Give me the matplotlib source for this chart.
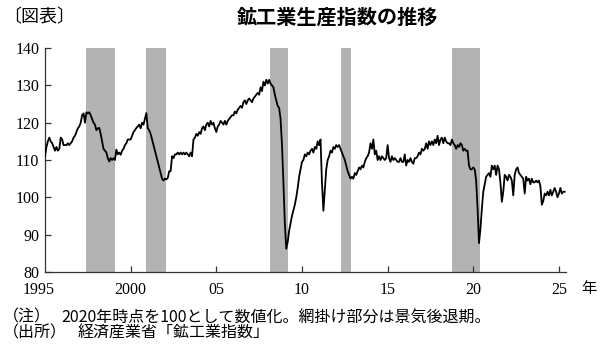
import matplotlib
matplotlib.use("Agg")
import matplotlib.pyplot as plt
import numpy as np

plt.rcParams["font.family"] = ["Liberation Serif", "Noto Sans CJK JP"]

JP = ["Noto Sans CJK JP", "DejaVu Sans"]

# monthly index (2020 = 100), Jan 1995 onwards
iip_1995_1999 = [
    111, 113.5, 115, 116, 115, 114.5, 113.5, 112.5, 113.5, 112.5, 113, 116,
    115.5, 114, 114, 114, 114.5, 114, 114.5, 115, 116, 116.5, 117.5, 118.5,
    119, 120, 122, 122.5, 120, 122.8, 122.5, 122.8, 122, 121, 120, 119.5,
    118, 118.5, 118.6, 117, 115, 113, 112.5, 112, 110.5, 109.6, 110.5, 110,
    110.5, 110, 112.8, 111.5, 112, 111.4, 112.5, 113, 114, 114.5, 115.5, 115.5,
]
iip_2000_2004 = [
    115.5, 116.5, 117.5, 118, 118.6, 119, 119.5, 118.5, 120, 119.5, 121, 122.6,
    118.5, 118, 117, 115.5, 114, 112.5, 111, 109.5, 108, 106.5, 105, 104.5,
    105, 104.8, 105.2, 107, 107, 111, 110.5, 111.5, 111.5, 112, 111.5, 112,
    111.5, 112, 111.5, 112, 111.5, 111, 112, 111, 115.5, 116, 117, 116.5,
    117.5, 117, 118.5, 119, 118, 119.5, 120, 119, 120.5, 119.5, 120, 118.5,
]
iip_2005_2009 = [
    117.5, 119, 119.5, 120.5, 120, 119.5, 120.5, 119.5, 120.5, 121, 121.5, 122,
    122, 123, 122.5, 123.5, 124, 124.5, 124, 125.5, 126, 125, 126, 126.5,
    126, 125.5, 126.5, 127, 127.5, 128, 127.5, 129.5, 128.5, 131, 130, 131.5,
    130.5, 131.5, 130.5, 130, 129.5, 127.5, 126, 124.5, 124, 121, 114, 104,
    93, 86.2, 88, 91, 93, 95, 96.5, 98, 100, 102.5, 105.5, 107.5,
]
iip_2010_2014 = [
    109.5, 110, 111.5, 111, 112, 111.5, 112.5, 113, 112, 113.5, 113, 115,
    114, 115.5, 104, 96.4, 102, 107.5, 110, 111, 112.5, 112, 113.5, 113,
    114, 113.5, 114, 113, 112, 111, 110, 108.5, 107, 106, 105, 105.5,
    105, 106.5, 106, 107, 108, 107.5, 108.5, 108, 109.5, 110.5, 111, 112,
    114.5, 113, 115.5, 111.5, 112.5, 110, 111, 110, 111, 110.5, 110, 110.5,
]
iip_2015_2019 = [
    114, 110.5, 109.5, 111, 110, 110.5, 110, 109.5, 109.5, 110.5, 109.5, 109.5,
    111.5, 108.5, 110, 109.5, 110.5, 109.5, 109, 110.5, 110.5, 111, 112, 111.5,
    113, 112.5, 113, 114.5, 113, 115, 114, 115, 114, 115.5, 114.5, 116.5,
    114, 115.5, 116, 114.5, 116, 115, 114.5, 114.5, 114, 115.5, 114.5, 114,
    113, 114, 113.5, 114.5, 114, 112.5, 113, 112.5, 112.5, 108.5, 107.5, 107.5,
]
iip_2020_2025 = [
    108, 107.5, 104.5, 97, 87.7, 91.5, 97, 101.5, 103.5, 105.5, 106, 106.5,
    105.5, 108.5, 107.5, 108.5, 106, 108.5, 107.5, 104, 98.8, 101.5, 106, 105.5,
    104.5, 106, 105.5, 104.5, 100.5, 106, 107.5, 108, 106.5, 106, 105.5, 105,
    101, 105.5, 104.5, 105, 103.5, 105, 104, 104, 104.5, 104, 104.5, 103,
    98, 99, 101, 100.5, 101.5, 100.5, 102, 100.5, 101.5, 102.5, 101.5, 100,
    101, 102.5, 101, 101.5, 101.5,
]

# recession periods (decimal years)
rec_start = [1997.42, 2000.92, 2008.12, 2012.25, 2018.78]
rec_end = [1999.08, 2002.08, 2009.21, 2012.88, 2020.38]

xtick_years = [2000, 2005, 2010, 2015, 2020, 2025]
xtick_labels = ["2000", "05", "10", "15", "20", "25"]
yticks = [80, 90, 100, 110, 120, 130, 140]

iip = np.array(iip_1995_1999 + iip_2000_2004 + iip_2005_2009
               + iip_2010_2014 + iip_2015_2019 + iip_2020_2025)
t = 1995 + np.arange(len(iip)) / 12

fig = plt.figure(figsize=(6.0, 3.54), dpi=100)
ax = fig.add_axes([0.075, 0.232, 0.868, 0.632])

for s, e in zip(rec_start, rec_end):
    ax.axvspan(s, e, color="#b3b3b3", lw=0, zorder=1)

ax.plot(t, iip, color="black", lw=1.3, zorder=3)

ax.set_xlim(1995, 2025.4)
ax.set_ylim(80, 140)
ax.set_yticks(yticks)
ax.set_xticks(xtick_years)
ax.set_xticklabels(xtick_labels)
ax.tick_params(axis="both", direction="in", length=4, width=0.9,
               color="#333333", labelsize=11.5)
ax.tick_params(axis="x", pad=7)
ax.tick_params(axis="y", pad=4)
for side in ("top", "right"):
    ax.spines[side].set_visible(False)
for side in ("left", "bottom"):
    ax.spines[side].set_color("#333333")
    ax.spines[side].set_linewidth(0.9)

ax.annotate("1995", xy=(1995, 80), xytext=(-4.5, -7.5),
            textcoords="offset points", ha="center", va="top", fontsize=11.5)

fig.text(0.982, 0.184, "年", fontsize=11, family=JP, ha="center", va="center")
fig.text(0.005, 0.952, "〔図表〕", fontsize=13, family=JP, ha="left", va="center")
fig.text(0.562, 0.952, "鉱工業生産指数の推移", fontsize=14.5, family=JP,
         fontweight="bold", ha="center", va="center")
fig.text(0.005, 0.105, "（注）", fontsize=11.5, family=JP, ha="left", va="center")
fig.text(0.103, 0.105, "2020年時点を100として数値化。網掛け部分は景気後退期。",
         fontsize=11.5, family=JP, ha="left", va="center")
fig.text(0.005, 0.058, "（出所）", fontsize=11.5, family=JP, ha="left", va="center")
fig.text(0.130, 0.058, "経済産業省「鉱工業指数」", fontsize=11.5, family=JP,
         ha="left", va="center")

fig.savefig("out.png", dpi=100)
